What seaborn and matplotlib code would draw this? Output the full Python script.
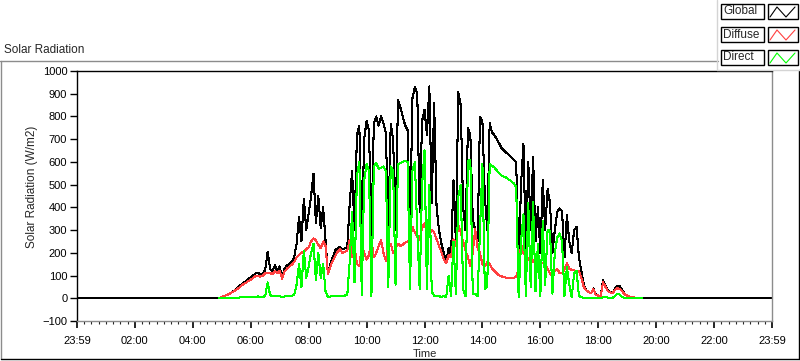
import numpy as np
import pandas as pd
import matplotlib
matplotlib.use("Agg")
import matplotlib.pyplot as plt
import seaborn as sns
from matplotlib.patches import Rectangle
from matplotlib.lines import Line2D

# readings every 5 minutes, first one at 04:55
start_hour = 4 + 55 / 60

global_rad = [
    0, 5, 10, 15, 20, 26, 32, 42, 50, 60, 68, 75,            # 04:55-05:50
    85, 92, 100, 110, 112, 104, 108, 125, 205, 130, 118, 145,  # 05:55-06:50
    120, 140, 90, 130, 145, 150, 160, 182, 240, 358, 250, 439,  # 06:55-07:50
    300, 373, 450, 549, 330, 450, 310, 400, 255, 105, 150, 180,  # 07:55-08:50
    211, 220, 226, 215, 220, 226, 417, 560, 300, 720, 760, 250,  # 08:55-09:50
    700, 780, 740, 280, 770, 800, 760, 800, 770, 726, 297, 768,  # 09:55-10:50
    700, 300, 871, 840, 800, 760, 740, 300, 880, 930, 900, 380,  # 10:55-11:50
    780, 830, 720, 932, 420, 860, 400, 300, 240, 200, 160, 220,  # 11:55-12:50
    190, 519, 250, 906, 850, 400, 300, 748, 720, 350, 300, 250,  # 12:55-13:50
    798, 780, 450, 300, 770, 730, 717, 700, 680, 660, 650, 640,  # 13:55-14:50
    630, 620, 610, 600, 138, 500, 680, 200, 600, 300, 620, 250,  # 14:55-15:50
    400, 200, 519, 300, 480, 420, 200, 300, 380, 395, 383, 180,  # 15:55-16:50
    365, 250, 200, 300, 314, 180, 120, 60, 35, 28, 22, 44,      # 16:55-17:50
    15, 12, 10, 79, 55, 35, 28, 24, 45, 56, 52, 35,             # 17:55-18:50
    18, 12, 8, 5, 3, 1, 0, 0,                                    # 18:55-19:30
]
diffuse_rad = [
    0, 5, 10, 14, 19, 25, 30, 38, 45, 55, 62, 68,
    76, 82, 90, 98, 100, 95, 100, 110, 112, 112, 105, 118,
    110, 122, 85, 118, 130, 140, 148, 160, 180, 190, 200, 205,
    215, 225, 250, 264, 255, 235, 220, 250, 230, 105, 140, 165,
    185, 205, 215, 200, 205, 210, 255, 180, 230, 150, 140, 230,
    200, 170, 190, 260, 180, 200, 230, 255, 200, 165, 230, 240,
    200, 220, 240, 230, 235, 245, 250, 260, 314, 290, 270, 255,
    310, 330, 290, 280, 300, 290, 260, 230, 204, 170, 154, 190,
    180, 260, 230, 323, 290, 250, 210, 180, 140, 200, 305, 220,
    200, 150, 140, 160, 150, 130, 120, 110, 100, 96, 94, 90,
    88, 88, 90, 95, 125, 240, 200, 180, 170, 190, 160, 180,
    157, 150, 157, 150, 130, 110, 94, 120, 130, 110, 110, 125,
    154, 130, 125, 123, 119, 119, 90, 50, 35, 28, 22, 40,
    14, 12, 10, 70, 50, 32, 26, 22, 38, 44, 42, 30,
    17, 12, 8, 5, 3, 1, 0, 0,
]
direct_rad = [
    0, 0, 0, 1, 1, 2, 2, 3, 3, 4, 4, 5,
    5, 6, 6, 7, 8, 6, 6, 10, 70, 15, 8, 10,
    8, 10, 5, 8, 10, 12, 10, 15, 60, 150, 50, 210,
    90, 140, 200, 240, 80, 200, 90, 150, 30, 5, 8, 10,
    12, 10, 12, 10, 12, 15, 160, 380, 70, 540, 600, 15,
    520, 590, 560, 10, 580, 595, 570, 575, 580, 560, 50, 580,
    560, 60, 591, 595, 600, 605, 600, 40, 560, 600, 300, 40,
    500, 651, 40, 500, 30, 10, 10, 10, 5, 10, 5, 100,
    10, 250, 20, 446, 500, 40, 10, 605, 610, 20, 20, 10,
    300, 590, 40, 50, 590, 583, 575, 562, 550, 540, 535, 530,
    522, 515, 505, 490, 5, 250, 370, 10, 420, 50, 425, 30,
    240, 10, 340, 60, 300, 297, 20, 200, 267, 285, 250, 10,
    138, 60, 5, 110, 120, 10, 5, 2, 1, 1, 1, 2,
    0, 0, 0, 5, 5, 3, 2, 2, 10, 20, 15, 5,
    2, 1, 0, 0, 0, 0, 0, 0,
]

x_ticks = list(range(0, 25, 2))
x_labels = ["23:59", "02:00", "04:00", "06:00", "08:00", "10:00", "12:00",
            "14:00", "16:00", "18:00", "20:00", "22:00", "23:59"]
y_ticks = list(range(-100, 1001, 100))
legend_names = ["Global", "Diffuse", "Direct"]
legend_colors = ["black", "#ff4040", "#00ff00"]

hours = start_hour + np.arange(len(global_rad)) / 12
df = pd.DataFrame({"hour": hours, "Global": global_rad,
                   "Diffuse": diffuse_rad, "Direct": direct_rad})
# global trace runs the whole day, flat zero at night
glob = pd.concat([pd.DataFrame({"hour": [0.0], "Global": [0]}),
                  df[["hour", "Global"]],
                  pd.DataFrame({"hour": [24.0], "Global": [0]})])

sns.set_style("white")
plt.rcParams["font.family"] = ["Liberation Sans", "DejaVu Sans"]

W, H = 800, 361
fig = plt.figure(figsize=(W / 100, H / 100), dpi=100)
ax = fig.add_axes([77 / W, 40 / H, 695 / W, 250 / H])

sns.lineplot(data=glob, x="hour", y="Global", color="black", lw=0.75,
             antialiased=False, ax=ax)
sns.lineplot(data=df, x="hour", y="Diffuse", color=legend_colors[1], lw=0.75,
             antialiased=False, ax=ax)
sns.lineplot(data=df, x="hour", y="Direct", color=legend_colors[2], lw=0.75,
             antialiased=False, ax=ax)

ax.set_xlim(0, 24)
ax.set_ylim(-100, 1000)
ax.set_xticks(x_ticks)
ax.set_xticklabels(x_labels)
ax.set_xticks(np.arange(0, 24.01, 0.25), minor=True)
ax.set_yticks(y_ticks)
ax.tick_params(axis="both", labelsize=8, colors="black")
ax.tick_params(axis="y", direction="out", length=5, width=1, pad=2, left=True)
ax.tick_params(axis="x", which="major", direction="out", length=5, width=1.2, pad=6, bottom=True)
ax.tick_params(axis="x", which="minor", direction="out", length=2.5, width=0.8, bottom=True)

for side, col in [("left", "black"), ("top", "black"), ("right", "#8c8c8c"), ("bottom", "#8c8c8c")]:
    ax.spines[side].set_visible(True)
    ax.spines[side].set_color(col)
    ax.spines[side].set_linewidth(1)

ax.set_xlabel("Time", fontsize=8)
ax.xaxis.set_label_coords(0.5, -0.112)
ax.set_ylabel("Solar Radiation (W/m2)", fontsize=8.5)
ax.yaxis.set_label_coords(-0.056, 0.535)

fig.text(4 / W, 1 - 50 / H, "Solar Radiation", fontsize=8.5, ha="left", va="center")


def fx(x):
    return x / W


def fy(y):
    return 1 - y / H


# panel frame
fig.add_artist(Line2D([fx(0), fx(718)], [fy(61), fy(61)], color="#8c8c8c", lw=1))
fig.add_artist(Line2D([fx(1), fx(1)], [fy(61), fy(359)], color="#8c8c8c", lw=1))
fig.add_artist(Line2D([fx(1), fx(799)], [fy(359), fy(359)], color="black", lw=1))
fig.add_artist(Line2D([fx(798.5), fx(798.5)], [fy(70), fy(359)], color="black", lw=1))
fig.add_artist(Line2D([fx(717), fx(717)], [fy(0), fy(70)], color="#d4d4d4", lw=1))
fig.add_artist(Line2D([fx(717), fx(800)], [fy(70), fy(70)], color="#d4d4d4", lw=1))

# legend boxes
for i, (name, col) in enumerate(zip(legend_names, legend_colors)):
    top = 4 + i * 23
    fig.add_artist(Rectangle((fx(720.5), fy(top + 15)), 43 / W, 15 / H,
                             transform=fig.transFigure, fc="white", ec="black", lw=1))
    fig.text(fx(723), fy(top + 7.5), name, fontsize=8.5, ha="left", va="center")
    fig.add_artist(Rectangle((fx(767.5), fy(top + 15)), 30.5 / W, 15 / H,
                             transform=fig.transFigure, fc="white", ec="black", lw=1))
    xs = [770, 777, 786, 795]
    ys = [top + 13, top + 3, top + 13, top + 3]
    fig.add_artist(Line2D([fx(v) for v in xs], [fy(v) for v in ys], color=col, lw=0.8))

fig.savefig("out.png", dpi=100, facecolor="white")
